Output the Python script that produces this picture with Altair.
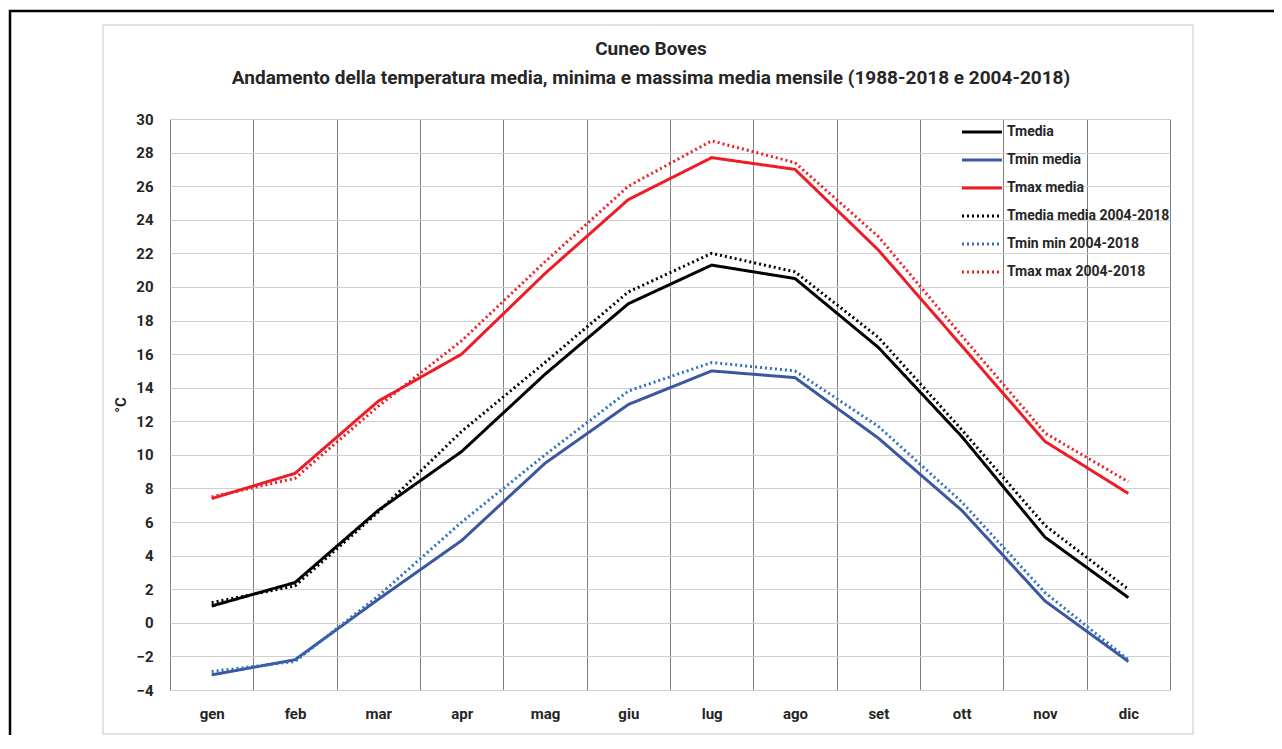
import altair as alt
import pandas as pd

months = ["gen", "feb", "mar", "apr", "mag", "giu", "lug", "ago", "set", "ott", "nov", "dic"]
series_names = [
    "Tmedia",
    "Tmin media",
    "Tmax media",
    "Tmedia media 2004-2018",
    "Tmin min 2004-2018",
    "Tmax max 2004-2018",
]
tmedia = [1.0, 2.4, 6.7, 10.2, 14.8, 19.0, 21.3, 20.5, 16.4, 11.1, 5.1, 1.5]
tmin_media = [-3.1, -2.2, 1.4, 4.9, 9.5, 13.0, 15.0, 14.6, 11.0, 6.7, 1.3, -2.3]
tmax_media = [7.4, 8.9, 13.2, 16.0, 20.8, 25.2, 27.7, 27.0, 22.2, 16.5, 10.8, 7.7]
tmedia_0418 = [1.2, 2.2, 6.6, 11.4, 15.5, 19.7, 22.0, 20.9, 17.0, 11.5, 5.8, 2.0]
tmin_0418 = [-2.9, -2.3, 1.6, 6.0, 10.0, 13.8, 15.5, 15.0, 11.7, 7.2, 1.8, -2.2]
tmax_0418 = [7.5, 8.6, 12.9, 16.8, 21.5, 26.0, 28.7, 27.4, 23.0, 17.1, 11.3, 8.4]
y_ticks = list(range(-4, 31, 2))

title_lines = [
    "Cuneo Boves",
    "Andamento della temperatura media, minima e massima media mensile (1988-2018 e 2004-2018)",
]

series_values = [tmedia, tmin_media, tmax_media, tmedia_0418, tmin_0418, tmax_0418]
rows = []
for name, vals in zip(series_names, series_values):
    for m, v in zip(months, vals):
        rows.append({"mese": m, "serie": name, "temp": v})
df = pd.DataFrame(rows)

colors = ["#000000", "#3b57a0", "#ee1c25", "#000000", "#2f6fc0", "#ee1c25"]
dashes = [[1, 0], [1, 0], [1, 0], [2, 3], [2, 3], [2, 3]]
widths = [3, 3, 3, 2.5, 2.5, 2.5]

FONT = "Roboto, sans-serif"

legend_opts = dict(
    title=None,
    orient="none",
    legendX=790,
    legendY=6,
    padding=0,
    symbolType="M-1,0H7",
    symbolSize=100,
    symbolStrokeWidth=3,
    labelOffset=33,
    labelFont=FONT,
    labelFontSize=14,
    labelFontWeight="bold",
    labelColor="#262626",
    labelLimit=300,
    rowPadding=14,
)

lines = alt.Chart(df).mark_line().encode(
    x=alt.X(
        "mese:N",
        sort=months,
        bandPosition=0.5,
        scale=alt.Scale(type="band", paddingInner=0, paddingOuter=0),
        axis=alt.Axis(
            title=None,
            tickBand="extent",
            grid=True,
            gridColor="#7f7f7f",
            gridWidth=1,
            domain=False,
            ticks=False,
            labelAngle=0,
            labelPadding=16,
            labelFontSize=15,
            labelFontWeight="bold",
            labelFont=FONT,
            labelColor="#262626",
        ),
    ),
    y=alt.Y(
        "temp:Q",
        scale=alt.Scale(domain=[-4, 30], nice=False, zero=False),
        axis=alt.Axis(
            values=y_ticks,
            title="°C",
            titleFont=FONT,
            titleFontSize=15,
            titleFontWeight="bold",
            titleColor="#262626",
            titlePadding=7,
            grid=True,
            gridColor="#cfcfcf",
            gridWidth=1,
            domain=False,
            ticks=False,
            labelPadding=17,
            labelFontSize=15,
            labelFontWeight="bold",
            labelFont=FONT,
            labelColor="#262626",
        ),
    ),
    color=alt.Color(
        "serie:N",
        sort=series_names,
        scale=alt.Scale(domain=series_names, range=colors),
        legend=alt.Legend(**legend_opts),
    ),
    strokeDash=alt.StrokeDash(
        "serie:N",
        sort=series_names,
        scale=alt.Scale(domain=series_names, range=dashes),
        legend=alt.Legend(**legend_opts),
    ),
    strokeWidth=alt.StrokeWidth(
        "serie:N",
        sort=series_names,
        scale=alt.Scale(domain=series_names, range=widths),
        legend=None,
    ),
    detail="serie:N",
)

frame_data = alt.Data(values=[{"k": 1}])

outer_frame = alt.Chart(frame_data).mark_rect(
    fill="transparent", stroke="#000000", strokeWidth=2.5
).encode(
    x=alt.value(-160), x2=alt.value(1140), y=alt.value(-108), y2=alt.value(660)
)

chart_frame = alt.Chart(frame_data).mark_rect(
    fill="transparent", stroke="#d9d9d9", strokeWidth=1.5
).encode(
    x=alt.value(-67), x2=alt.value(1023), y=alt.value(-94), y2=alt.value(615)
)

chart = (
    alt.layer(outer_frame, chart_frame, lines)
    .properties(
        width=1000,
        height=571,
        title=alt.TitleParams(
            text=title_lines,
            font=FONT,
            fontSize=19,
            fontWeight="bold",
            color="#262626",
            anchor="middle",
            dx=-19,
            offset=-78,
            lineHeight=29,
        ),
        autosize=alt.AutoSizeParams(type="none"),
        padding={"left": 162, "top": 111, "right": 104, "bottom": 45},
        background="white",
    )
    .configure_view(strokeWidth=0)
)

chart.save("out.html", embed_options={"renderer": "svg", "actions": False})
